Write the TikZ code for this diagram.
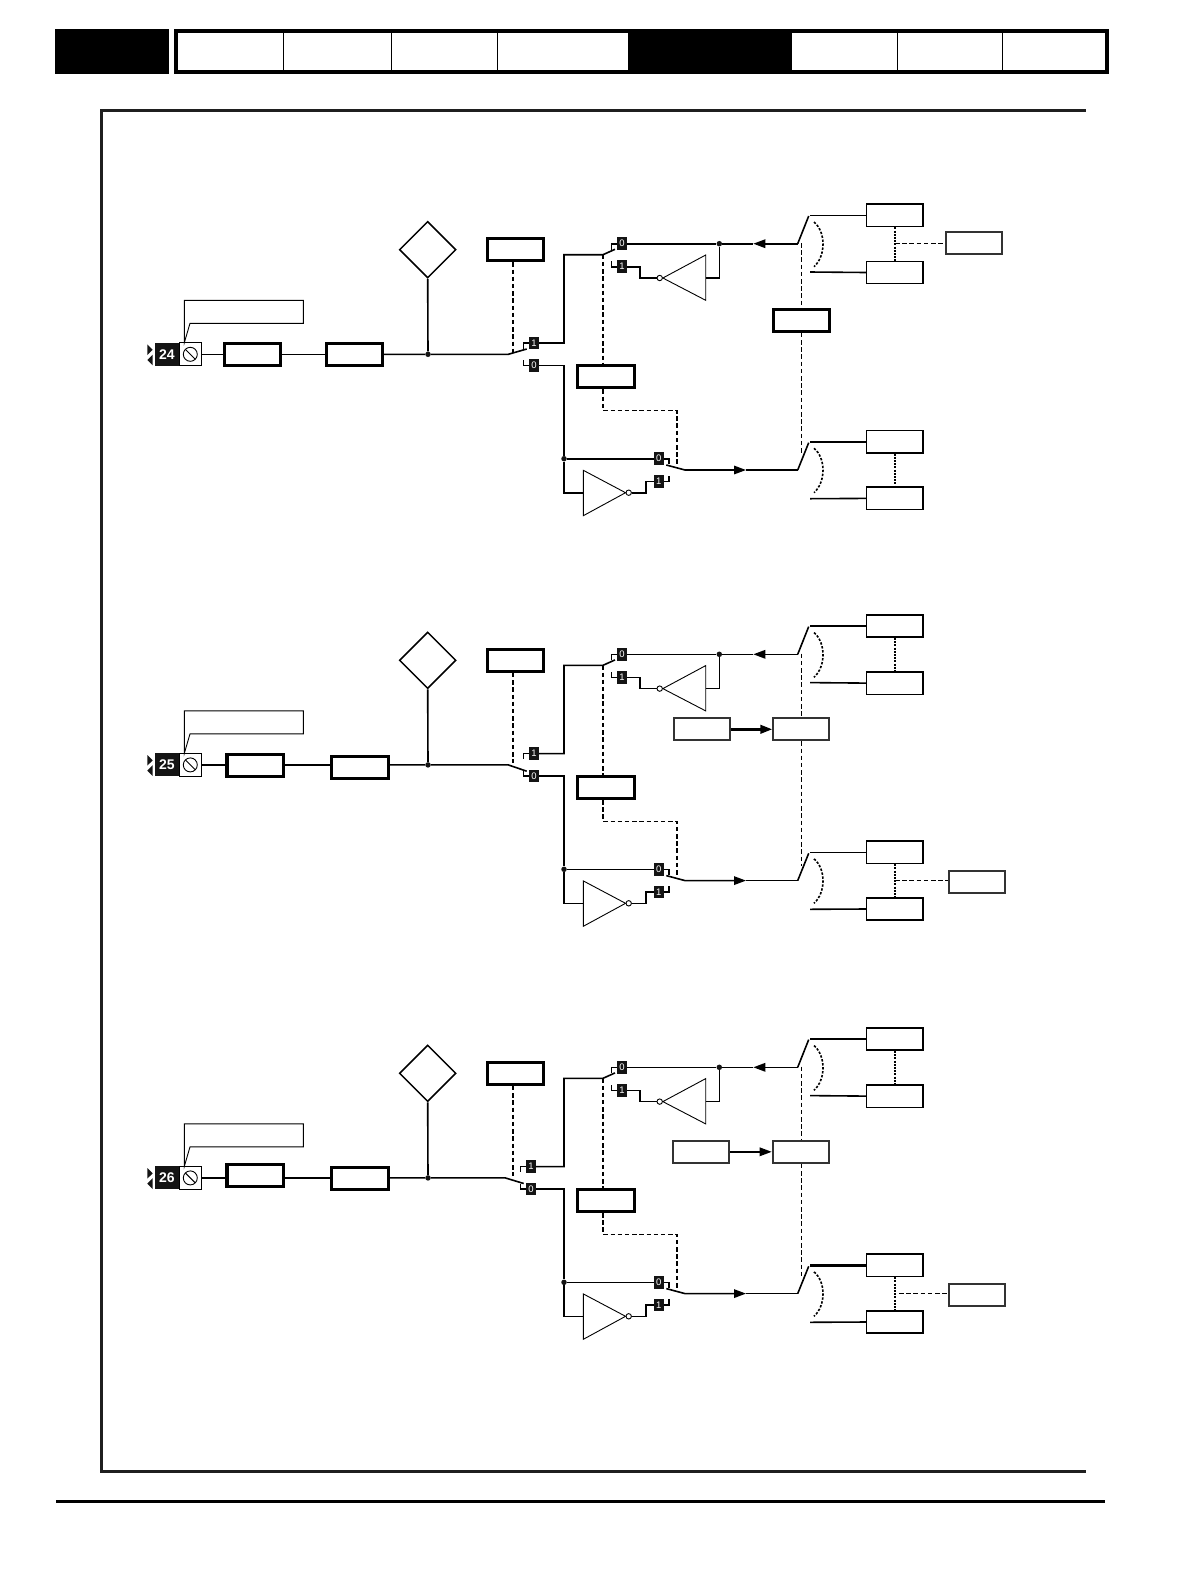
\documentclass[tikz,border=0pt]{standalone}
\usepackage{fontspec}
\setmainfont{Liberation Sans}
\usetikzlibrary{calc,arrows.meta,shapes.geometric}

\tikzset{
    wire/.style={line width=1.6pt},
    fineline/.style={line width=0.9pt},
    busdash/.style={line width=1.4pt, dash pattern=on 4.5pt off 2.7pt},
    finedash/.style={line width=0.9pt, dash pattern=on 4.5pt off 2.7pt},
    tiedot/.style={line width=1.6pt, dash pattern=on 2pt off 1.2pt},
    funcbox/.style={draw, fill=white, inner sep=0pt, minimum width=56.2pt, minimum height=22pt},
    parambox/.style={draw, fill=white, inner sep=0pt, line width=1.5pt, minimum width=56.4pt, minimum height=22.4pt},
    greybox/.style={draw=black!80, fill=white, inner sep=0pt, line width=2pt, minimum width=56pt, minimum height=22pt},
    tagbit/.style={fill=black!92, text=white, inner sep=0pt, minimum width=10pt, minimum height=12.6pt, font=\fontsize{9.5}{9.5}\selectfont},
    joint/.style={circle, fill=black!92, inner sep=0pt, minimum size=5.5pt},
    bubble/.style={circle, draw, fill=white, inner sep=0pt, line width=0.9pt, minimum size=5.4pt},
    midarrow/.style={-{Triangle[length=12pt,width=8.5pt]}}
}

\begin{document}
\begin{tikzpicture}[x=1pt, y=-1pt]
    \useasboundingbox (0,0) rectangle (1190,1580);

    % Page header
    \fill (55,29) rectangle (169,74);
    \draw[line width=3.7pt] (176,30.9) rectangle (1107,72);
    \fill (628.3,29) rectangle (792,74);
    \foreach \tabx in {283.7,391,497.7,897.3,1002.7}
        \draw[line width=0.9pt] (\tabx,32) -- (\tabx,70);

    % Frame and footer rule
    \draw[line width=2.7pt, black!88] (1085.7,110.7) -- (101.6,110.7) -- (101.6,1471.4) -- (1085.7,1471.4);
    \draw[line width=3pt] (56,1501.3) -- (1105,1501.3);

    % The three input channels
    \foreach \num/\dy/\boxax/\boxay/\boxbx/\boxby/\lwa/\lwb/\swx/\swy/\lowlw in {
        24/0/252.7/354.2/354.5/354.2/3/3/0/-5.3/1.6,
        25/410.6/255.1/354.6/360/356.8/3.2/3/0/6.3/1.6,
        26/823.6/255.1/351.6/360/354.6/3.2/3/-3/5.6/0.9}{
    \begin{scope}[shift={(0,\dy)}]
        % Terminal
        \fill[black!92] (147.3,344.4) -- (152.7,349.8) -- (147.3,355) -- cycle;
        \fill[black!92] (152.7,354.6) -- (147.3,360) -- (152.7,365.4) -- cycle;
        \node[fill=black!92, text=white, inner sep=0pt, minimum width=24pt, minimum height=23pt,
            font=\bfseries\fontsize{14}{14}\selectfont] (pin\num) at (167,354.3) {\num};
        \node[draw, fill=white, inner sep=0pt, line width=0.9pt, minimum width=22.5pt, minimum height=23pt] (screw\num) at (190.3,354.3) {};
        \node[draw, circle, inner sep=0pt, line width=0.9pt, minimum size=14pt] (head\num) at (190.3,354.3) {};
        \draw[fineline] ($(head\num.center)+(-4.8,-4.8)$) -- ($(head\num.center)+(4.8,4.8)$);
        \draw[fineline] (184.3,342.8) -- (184.3,300.3) -- (303.3,300.3) -- (303.3,323.3) -- (190,323.3) -- cycle;

        % Input path
        \node[funcbox, line width=\lwa pt] (conva\num) at (\boxax,\boxay) {};
        \node[funcbox, line width=\lwb pt] (convb\num) at (\boxbx,\boxby) {};
        \node[joint] (tap\num) at (428,354.3) {};
        \node[diamond, draw, fill=white, aspect=1, inner sep=0pt, line width=1.5pt, minimum width=56.6pt, minimum height=56.6pt] (probe\num) at (427.7,249.7) {};
        \node[funcbox, line width=3pt] (invsel\num) at (515.8,249.8) {};
        \coordinate (swa\num) at ($(508.3,354.3)+(\swx,0)$);
        \coordinate (swb\num) at ($(526.7,354.3)+(\swx,\swy)$);
        \draw[wire] (screw\num.east) -- (screw\num.east -| conva\num.west);
        \draw[wire] (conva\num.east |- screw\num.east) -- (convb\num.west |- screw\num.east);
        \draw[wire] (convb\num.east |- screw\num.east) -- (tap\num) -- (swa\num) -- (swb\num);
        \draw[wire] (tap\num) -- (probe\num.south);
        \coordinate (seldash\num) at (513,352.5);
        \draw[busdash] (seldash\num |- invsel\num.south) -- (seldash\num);

        % Input selector tags
        \node[tagbit] (ina\num) at ($(534,343)+(\swx,0)$) {1};
        \node[tagbit] (inb\num) at ($(534,365.5)+(\swx,0)$) {0};
        \draw[wire] (ina\num.west) -- ++(-5.3,0) -- ++(0,5.6);
        \draw[wire] (inb\num.west) -- ++(-5.3,0) -- ++(0,-5.6);

        % Upper path
        \coordinate (upsw\num) at (603,254.7);
        \node[tagbit] (upa\num) at (622,243.7) {0};
        \node[tagbit] (upb\num) at (622,266.7) {1};
        \draw[wire] (ina\num.east) -- (564,343) -- (564,254.7) -- (upsw\num) -- (615,249.3);
        \draw[wire] (upa\num.west) -- ++(-5.3,0) -- ++(0,5.8);
        \draw[wire] (upb\num.west) -- ++(-5.3,0) -- ++(0,-5.8);
        \node[joint] (upjoin\num) at (719.3,243.7) {};
        \coordinate (uphead\num) at (753.3,243.7);
        \coordinate (uprelay\num) at (797.7,243.7);
        \draw[wire] (upa\num.east) -- (upjoin\num) -- (uphead\num);
        \draw[wire, midarrow] (uprelay\num) -- (uphead\num);
        \node[bubble] (upnot\num) at (659.7,278) {};
        \draw[fineline] (upnot\num.east) -- (705.7,255) -- (705.7,300.3) -- cycle;
        \draw[wire] (upb\num.east) -- (640,266.7) -- (640,278) -- (upnot\num.west);
        \draw[wire] (705.7,278) -- (719.3,278) -- (upjoin\num);

        % Lower path
        \node[joint] (lowjoin\num) at (564,458.7) {};
        \node[tagbit] (lowa\num) at (658.7,458.7) {0};
        \node[tagbit] (lowb\num) at (658.7,481.3) {1};
        \node[bubble] (lownot\num) at (628.7,492.7) {};
        \draw[wire] (inb\num.east) -- (564,365.5) -- (lowjoin\num) -- (564,492.7) -- (583.3,492.7);
        \draw[line width=\lowlw pt] (lowjoin\num) -- (lowa\num.west);
        \draw[fineline] (lownot\num.west) -- (583.3,470.3) -- (583.3,515.7) -- cycle;
        \draw[wire] (lownot\num.east) -- (646,492.7) -- (646,481.3) -- (lowb\num.west);
        \draw[wire] (lowa\num.east) -- ++(5,0) -- ++(0,5.5);
        \draw[wire] (lowb\num.east) -- ++(5,0) -- ++(0,-5.5);
        \coordinate (lowhead\num) at (746,470);
        \coordinate (lowrelay\num) at (797.7,470);
        \draw[wire, midarrow] (666.3,465) -- (685,470) -- (lowhead\num);
        \draw[wire] (lowhead\num) -- (lowrelay\num);

        % Mode box and its dashed links
        \node[funcbox, line width=3pt] (mode\num) at (606,376.9) {};
        \coordinate (modebend\num) at (603,410.7);
        \coordinate (lowsw\num) at (677,465);
        \draw[busdash] (upsw\num) -- (upsw\num |- mode\num.north);
        \draw[busdash] (upsw\num |- mode\num.south) -- (modebend\num) -| (lowsw\num);

        % Output contacts
        \node[parambox] (outa\num) at (894.8,215.4) {};
        \node[parambox] (outb\num) at (894.8,272.5) {};
        \node[parambox] (outc\num) at (894.8,441.7) {};
        \node[parambox] (outd\num) at (894.8,498.4) {};
        \draw[wire] (uprelay\num) -- (808.7,216);
        \draw[wire] (lowrelay\num) -- (808.7,442.7);
        \draw[wire] (810,215.4) -- (outa\num.west);
        \draw[wire] (810,272) -- (outb\num.west);
        \draw[wire] (810,441.7) -- (outc\num.west);
        \draw[wire] (810,498.7) -- (outd\num.west);
        \draw[busdash, dash pattern=on 2.4pt off 1.6pt, line width=1.6pt] (814,222) .. controls (826,232) and (826,256) .. (814,266.7);
        \draw[busdash, dash pattern=on 2.4pt off 1.6pt, line width=1.6pt] (814,448.3) .. controls (826,458) and (826,482) .. (814,492.7);
        \draw[tiedot] (outa\num.south) -- (outb\num.north);
        \draw[tiedot] (outc\num.south) -- (outd\num.north);
        \coordinate (tieup\num) at (895,243.7);
        \coordinate (tielow\num) at (895,470);
        \coordinate (relaytop\num) at (801.7,243);
        \coordinate (relaybot\num) at (801.7,455);
    \end{scope}
    }

    % Channel 24 extras
    \node[funcbox, line width=3pt] (output24) at (801.3,320.3) {};
    \node[greybox] (link24) at (973.6,242.8) {};
    \draw[busdash] (tieup24) -- (tieup24 -| link24.west);

    % Channel 25 extras
    \node[greybox] (source25) at (702,729.3) {};
    \node[greybox] (output25) at (801.3,729.3) {};
    \node[greybox] (link25) at (976.7,881.6) {};
    \draw[line width=2.6pt, midarrow] (source25.east) -- (output25.west);
    \draw[busdash] (tielow25) -- (tielow25 -| link25.west);

    % Channel 26 extras
    \node[greybox] (source26) at (701.2,1151.8) {};
    \node[greybox] (output26) at (800.7,1151.8) {};
    \node[greybox] (link26) at (977.3,1294.5) {};
    \draw[wire, midarrow] (source26.east) -- (output26.west);
    \draw[line width=2.8pt] (810,1265.3) -- (outc26.west);
    \draw[busdash] ($(tielow26)+(4,0)$) -- (tielow26 -| link26.west);

    % Thin dashed link between the output contacts
    \foreach \num in {24,25,26}{
        \draw[finedash] (relaytop\num) -- (relaytop\num |- output\num.north);
        \draw[finedash] (relaytop\num |- output\num.south) -- (relaybot\num);
    }
\end{tikzpicture}
\end{document}
